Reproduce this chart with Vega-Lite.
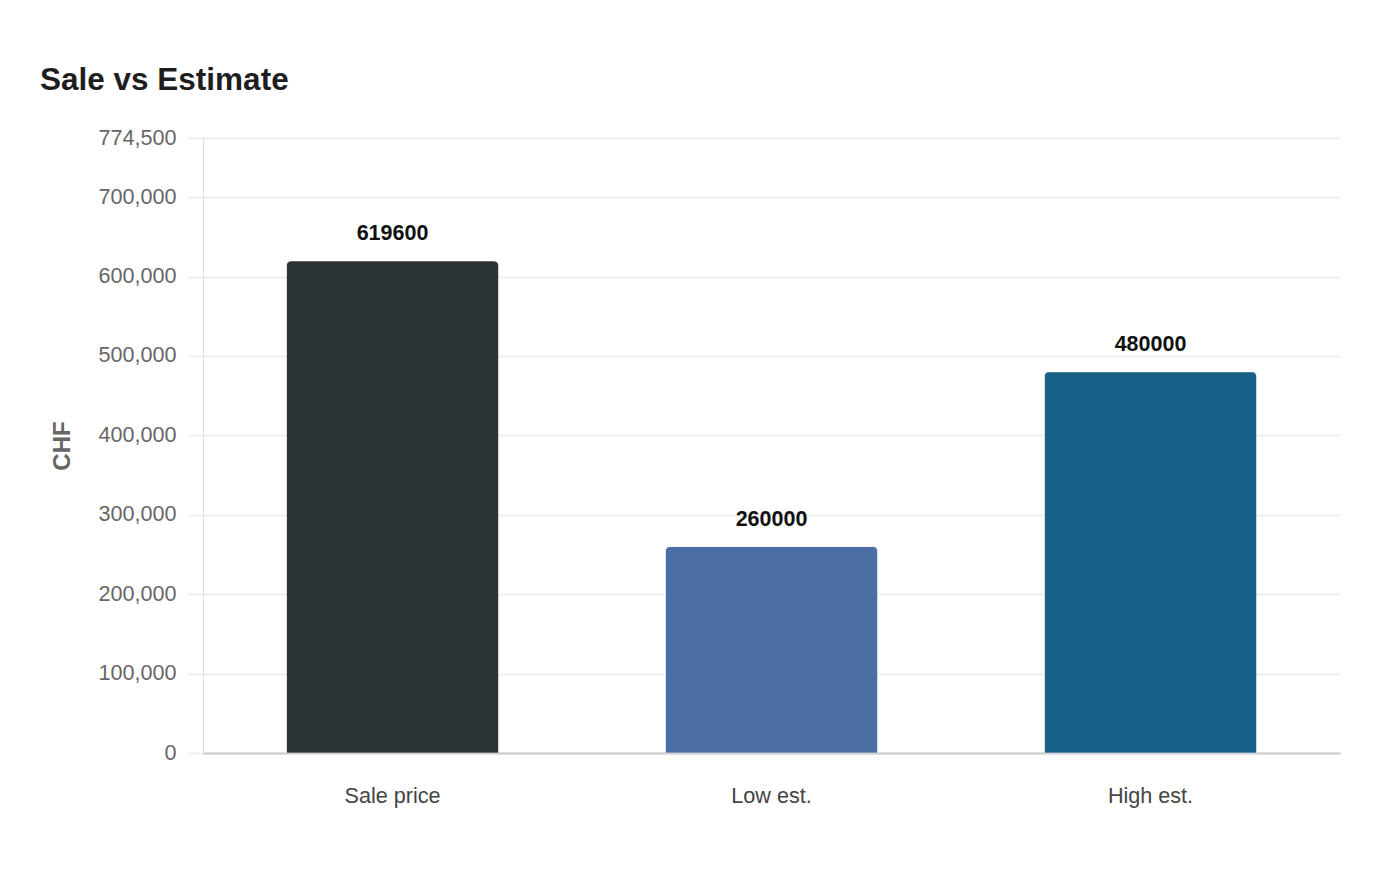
{
  "$schema": "https://vega.github.io/schema/vega-lite/v6.json",
  "autosize": "none",
  "width": 1137,
  "height": 615,
  "padding": {"left": 203, "top": 138, "right": 60, "bottom": 127},
  "background": "white",
  "config": {
    "font": "Liberation Sans",
    "view": {"stroke": null}
  },
  "title": {
    "text": "Sale vs Estimate",
    "anchor": "start",
    "frame": "group",
    "dx": -163,
    "offset": 31,
    "fontSize": 31.5,
    "fontWeight": "bold",
    "color": "#1e1e1e",
    "font": "Liberation Sans"
  },
  "data": {
    "values": [
      {"label": "Sale price", "value": 619600, "color": "#2d3436"},
      {"label": "Low est.", "value": 260000, "color": "#4a6ea3"},
      {"label": "High est.", "value": 480000, "color": "#176187"}
    ]
  },
  "encoding": {
    "x": {
      "field": "label",
      "type": "nominal",
      "sort": null,
      "scale": {"paddingInner": 0.44, "paddingOuter": 0.22},
      "axis": {
        "title": null,
        "labelAngle": 0,
        "labelFontSize": 21.6,
        "labelColor": "#444444",
        "labelPadding": 32,
        "ticks": false,
        "domainColor": "#cccccc",
        "domainWidth": 2,
        "grid": false
      }
    },
    "y": {
      "field": "value",
      "type": "quantitative",
      "scale": {"domain": [0, 774500], "nice": false},
      "axis": {
        "title": "CHF",
        "titleFontSize": 24,
        "titleFontWeight": "bold",
        "titleColor": "#666666",
        "titlePadding": 23,
        "labelFontSize": 21.6,
        "labelColor": "#666666",
        "labelPadding": 12,
        "values": [0, 100000, 200000, 300000, 400000, 500000, 600000, 700000, 774500],
        "format": ",.0f",
        "tickSize": 15,
        "tickColor": "#eeeeee",
        "tickWidth": 2,
        "gridColor": "#eeeeee",
        "gridWidth": 2,
        "domainColor": "#dddddd",
        "domainWidth": 1
      }
    }
  },
  "layer": [
    {
      "mark": {"type": "bar", "cornerRadiusTopLeft": 5, "cornerRadiusTopRight": 5, "stroke": "#ffffff", "strokeOpacity": 0.3, "strokeWidth": 1},
      "encoding": {
        "color": {"field": "color", "type": "nominal", "scale": null, "legend": null}
      }
    },
    {
      "mark": {"type": "text", "baseline": "bottom", "dy": -16, "fontSize": 21.5, "fontWeight": "bold", "color": "#111111"},
      "encoding": {
        "text": {"field": "value", "type": "quantitative", "format": "d"}
      }
    }
  ]
}
